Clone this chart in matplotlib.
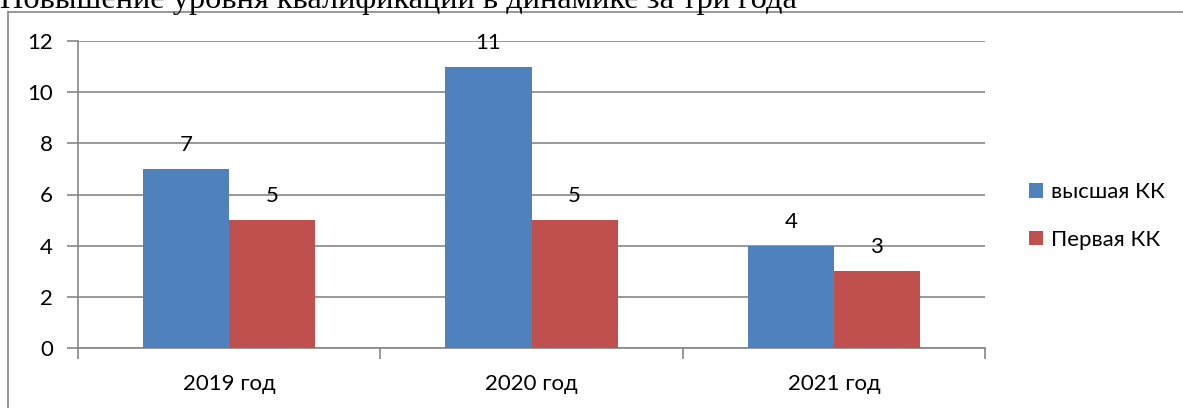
import numpy as np
import matplotlib
matplotlib.use('Agg')
from matplotlib import pyplot as plt
from matplotlib.lines import Line2D

title = 'Повышение уровня квалификации в динамике за три года'
years = ['2019 год', '2020 год', '2021 год']
higher = [7, 11, 4]
first = [5, 5, 3]
series_names = ['высшая КК', 'Первая КК']

blue = '#4F81BD'
red = '#C0504D'
grid_c = '#868686'

plt.rcParams['font.family'] = ['Lato', 'DejaVu Sans']

fig = plt.figure(figsize=(11.83, 4.08), dpi=100)
ax = fig.add_axes([78 / 1183, 1 - 348 / 408, (985 - 78) / 1183, (348 - 41) / 408])

x = np.arange(len(years))
w = 0.285
b1 = ax.bar(x - w / 2, higher, w, color=blue, label=series_names[0], zorder=3)
b2 = ax.bar(x + w / 2, first, w, color=red, label=series_names[1], zorder=3)
for bars in (b1, b2):
    ax.bar_label(bars, padding=10, fontsize=16, color='black')

ax.set_xlim(-0.5, 2.5)
ax.set_ylim(0, 12)
ax.set_yticks(range(0, 13, 2))
ax.grid(axis='y', color=grid_c, linewidth=1.2, zorder=0)
ax.set_xticks(x)
ax.set_xticklabels(years, fontsize=16)
ax.set_xticks([-0.5, 0.5, 1.5, 2.5], minor=True)
ax.tick_params(axis='x', which='major', length=0, pad=19)
ax.tick_params(axis='x', which='minor', length=8, color=grid_c, width=1.2)
ax.tick_params(axis='y', length=8, color=grid_c, width=1.2, labelsize=16, pad=10)
for s in ['top', 'right']:
    ax.spines[s].set_visible(False)
for s in ['left', 'bottom']:
    ax.spines[s].set_color(grid_c)
    ax.spines[s].set_linewidth(1.2)

ax.legend(loc='center left', bbox_to_anchor=(1.026, 0.43), frameon=False,
          fontsize=16, handlelength=0.65, handleheight=0.65, handletextpad=0.35,
          labelspacing=1.25)

# outer border of the chart area
fig.add_artist(Line2D([8 / 1183, 8 / 1183], [0, 1 - 12 / 408], color=grid_c,
                      linewidth=1.2, transform=fig.transFigure))
fig.add_artist(Line2D([8 / 1183, 1], [1 - 12 / 408, 1 - 12 / 408], color=grid_c,
                      linewidth=1.2, transform=fig.transFigure))

fig.text(0.0, 1 - 8 / 408, title, fontsize=23.3, va='baseline', ha='left',
         family=['Liberation Serif', 'DejaVu Serif'])

fig.savefig('out.png', dpi=100)
